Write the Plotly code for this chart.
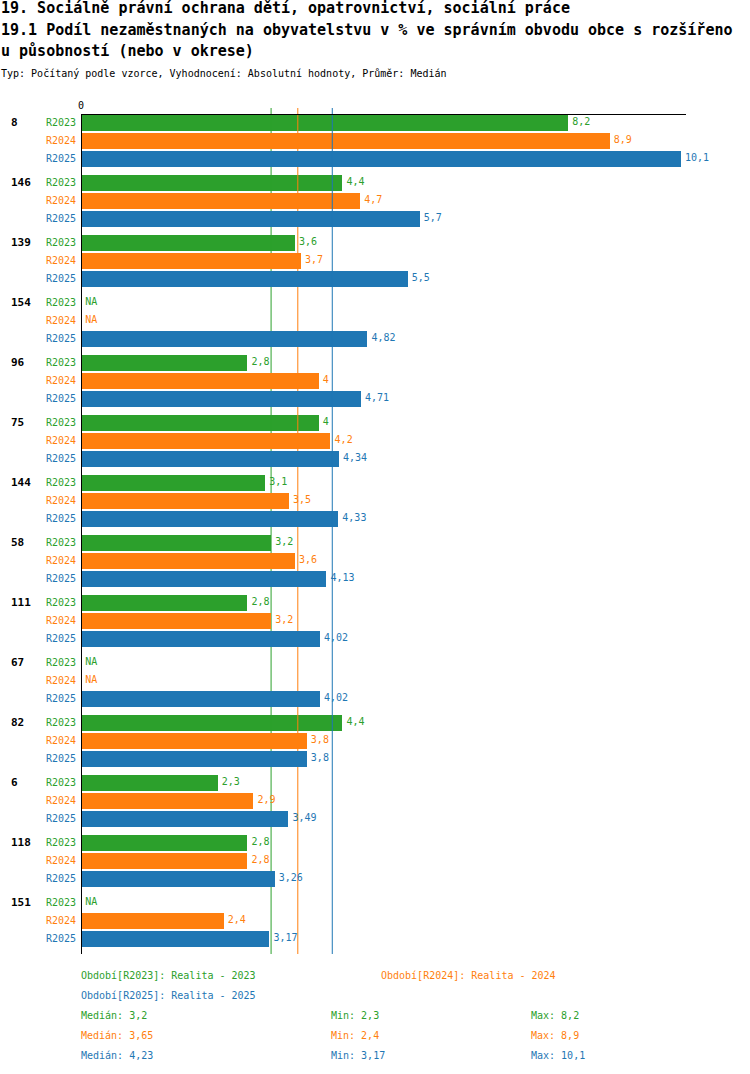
import numpy as np
import plotly.graph_objects as go

# ── data ────────────────────────────────────────────────────────────────────
OBCE = ["8", "146", "139", "154", "96", "75", "144", "58", "111", "67", "82", "6", "118", "151"]
OBDOBI = ["R2023", "R2024", "R2025"]
R2023 = [8.2, 4.4, 3.6, None, 2.8, 4, 3.1, 3.2, 2.8, None, 4.4, 2.3, 2.8, None]
R2024 = [8.9, 4.7, 3.7, None, 4, 4.2, 3.5, 3.6, 3.2, None, 3.8, 2.9, 2.8, 2.4]
R2025 = [10.1, 5.7, 5.5, 4.82, 4.71, 4.34, 4.33, 4.13, 4.02, 4.02, 3.8, 3.49, 3.26, 3.17]
POPISY = ["Realita - 2023", "Realita - 2024", "Realita - 2025"]
BARVY = ["#2ca02c", "#ff7f0e", "#1f77b4"]

TITULEK = [
    "19. Sociálně právní ochrana dětí, opatrovnictví, sociální práce",
    "19.1 Podíl nezaměstnaných na obyvatelstvu v % ve správním obvodu obce s rozšířeno",
    "u působností (nebo v okrese)",
]
PODTITULEK = "Typ: Počítaný podle vzorce, Vyhodnocení: Absolutní hodnoty, Průměr: Medián"

# ── geometry ────────────────────────────────────────────────────────────────
W, H = 750, 1074
ML, MR, MT, MB = 81, 64, 108, 120
ROW_PX = 18
GROUP_STEP = 10 / 3          # rows per group (3 bars + gap)
Y_TOP = -(122.5 - MT) / ROW_PX
Y_BOTTOM = Y_TOP + (H - MT - MB) / ROW_PX
Y_LINE = -(122.5 - 114.5) / ROW_PX
X_MAX = 10.185
FONT = "DejaVu Sans Mono"


def fmt(v):
    return f"{v:g}".replace(".", ",")


serie = [R2023, R2024, R2025]
fig = go.Figure()

# each period on its own overlaid subplot so its median line sits above its own
# bars but below the bars of the following periods
for s, (vals, barva, obd) in enumerate(zip(serie, BARVY, OBDOBI)):
    ax = "" if s == 0 else str(s + 1)
    ys = [g * GROUP_STEP + s for g in range(len(OBCE))]
    xs = [v if v is not None else 0 for v in vals]
    fig.add_trace(go.Bar(
        x=xs, y=ys,
        orientation="h", width=16 / ROW_PX,
        marker=dict(color=barva, line=dict(width=0)),
        xaxis="x" + ax, yaxis="y" + ax, hoverinfo="skip", showlegend=False,
    ))
    fig.add_trace(go.Scatter(
        x=xs, y=ys, mode="markers+text",
        marker=dict(size=5, color="rgba(0,0,0,0)"),
        text=[fmt(v) if v is not None else "NA" for v in vals],
        textposition="middle right",
        textfont=dict(family=FONT, size=10, color=barva),
        cliponaxis=False, xaxis="x" + ax, yaxis="y" + ax,
        hoverinfo="skip", showlegend=False,
    ))
    med = float(np.nanmedian(np.array(vals, dtype=float)))
    fig.add_trace(go.Scatter(
        x=[med, med], y=[Y_TOP, Y_BOTTOM], mode="lines",
        line=dict(color=barva, width=1),
        xaxis="x" + ax, yaxis="y" + ax, hoverinfo="skip", showlegend=False,
    ))

# row and group labels
ann = []
for g, obec in enumerate(OBCE):
    y0 = g * GROUP_STEP
    ann.append(dict(x=0, xref="paper", y=y0, yref="y", text=f"<b>{obec}</b>",
                    xanchor="left", xshift=10 - ML - 1, showarrow=False,
                    font=dict(family=FONT, size=11, color="black")))
    for s, obd in enumerate(OBDOBI):
        ann.append(dict(x=0, xref="paper", y=y0 + s, yref="y", text=obd,
                        xanchor="right", xshift=-3, showarrow=False,
                        font=dict(family=FONT, size=10, color=BARVY[s])))

ann.append(dict(x=0, xref="x", y=Y_LINE, yref="y", text="0", yanchor="bottom",
                yshift=2, showarrow=False, font=dict(family=FONT, size=10, color="black")))

# titles
for txt, py in zip(TITULEK, [8, 30, 51]):
    ann.append(dict(x=0, xref="paper", y=1, yref="paper", text=f"<b>{txt}</b>", xanchor="left",
                    yanchor="middle", xshift=-ML - 1, yshift=MT - py, showarrow=False,
                    font=dict(family=FONT, size=15, color="black")))
ann.append(dict(x=0, xref="paper", y=1, yref="paper", text=PODTITULEK, xanchor="left",
                yanchor="middle", xshift=-ML - 1, yshift=MT - 73, showarrow=False,
                font=dict(family=FONT, size=10, color="black")))

# bottom legend / statistics
bottom = H - MB
legend_pos = [(80, 975), (380, 975), (80, 995)]
for s, (obd, popis) in enumerate(zip(OBDOBI, POPISY)):
    px, py = legend_pos[s]
    ann.append(dict(x=0, xref="paper", y=0, yref="paper", text=f"Období[{obd}]: {popis}",
                    xanchor="left", yanchor="middle", xshift=px - ML - 1, yshift=bottom - py,
                    showarrow=False, font=dict(family=FONT, size=10, color=BARVY[s])))
for s, vals in enumerate(serie):
    arr = np.array(vals, dtype=float)
    py = 1015 + 20 * s
    stats = [("Medián", np.nanmedian(arr), 80), ("Min", np.nanmin(arr), 330),
             ("Max", np.nanmax(arr), 530)]
    for name, v, px in stats:
        ann.append(dict(x=0, xref="paper", y=0, yref="paper", text=f"{name}: {fmt(float(v))}",
                        xanchor="left", yanchor="middle", xshift=px - ML - 1,
                        yshift=bottom - py, showarrow=False,
                        font=dict(family=FONT, size=10, color=BARVY[s])))

xa = dict(range=[0, X_MAX], showgrid=False, zeroline=False, showticklabels=False,
          showline=False, fixedrange=True)
ya = dict(range=[Y_BOTTOM, Y_TOP], showgrid=False, zeroline=False, showticklabels=False,
          showline=False, fixedrange=True)

fig.update_layout(
    width=W, height=H,
    margin=dict(l=ML, r=MR, t=MT, b=MB),
    plot_bgcolor="white", paper_bgcolor="white",
    barmode="overlay", bargap=0,
    xaxis=xa, yaxis=ya,
    xaxis2=dict(xa, overlaying="x", visible=False),
    yaxis2=dict(ya, overlaying="y", visible=False),
    xaxis3=dict(xa, overlaying="x", visible=False),
    yaxis3=dict(ya, overlaying="y", visible=False),
    annotations=ann,
    shapes=[
        dict(type="line", xref="x", yref="y", x0=0, x1=X_MAX, y0=Y_LINE, y1=Y_LINE,
             line=dict(color="black", width=1), layer="above"),
        dict(type="line", xref="x", yref="y", x0=0, x1=0, y0=Y_LINE, y1=Y_BOTTOM,
             line=dict(color="black", width=2), layer="above"),
    ],
    showlegend=False,
)

fig.write_html("out.html", config={"displayModeBar": False},
               post_script="document.body.style.margin='0';")
